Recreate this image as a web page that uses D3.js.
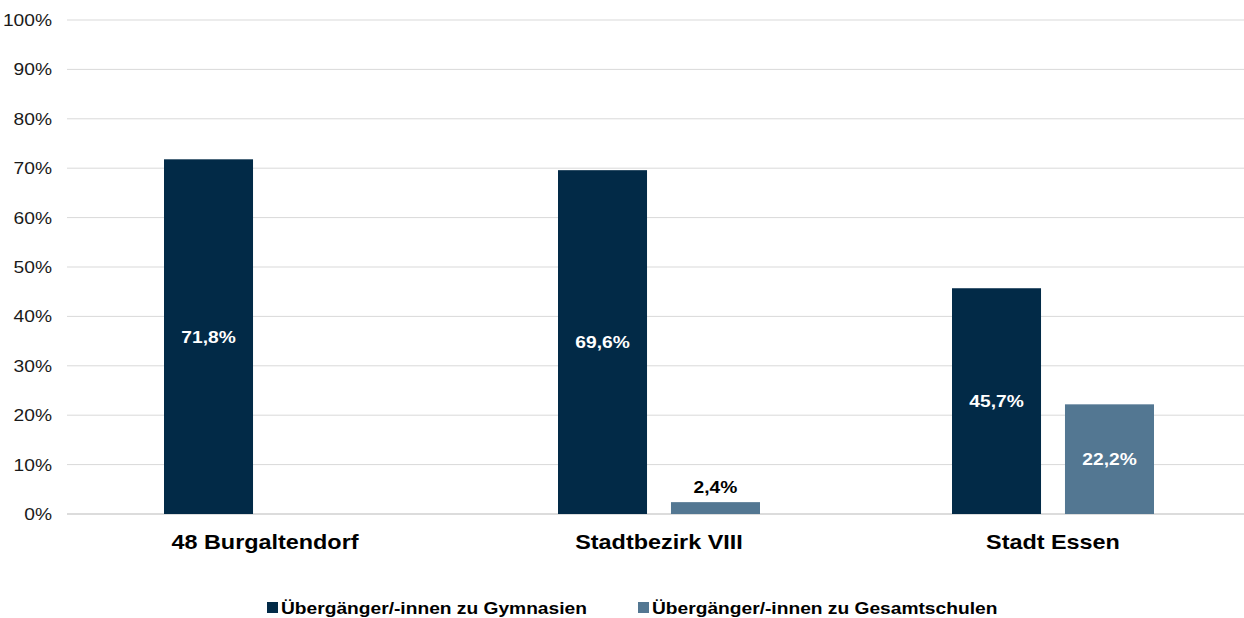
<!DOCTYPE html>
<html>
<head>
<meta charset="utf-8">
<script src="https://cdn.jsdelivr.net/npm/d3@7"></script>
<style>
  body { margin: 0; background: #fff; }
  svg { font-family: "Liberation Sans", Arial, sans-serif; }
</style>
</head>
<body>
<div id="chart"></div>
<script>
// data
var categories = ["48 Burgaltendorf", "Stadtbezirk VIII", "Stadt Essen"];
var seriesNames = ["Übergänger/-innen zu Gymnasien", "Übergänger/-innen zu Gesamtschulen"];
var gymnasien = [71.8, 69.6, 45.7];
var gesamtschulen = [null, 2.4, 22.2];
var yTicks = [0, 10, 20, 30, 40, 50, 60, 70, 80, 90, 100];

var colors = ["#022a47", "#537792"];

var width = 1244, height = 618;
var margin = { top: 20, left: 67, right: -5, bottom: 104 };
var stretch = 1.2; // text in the original is a bit wide

var svg = d3.select("#chart").append("svg")
    .attr("width", width)
    .attr("height", height);

var x0 = d3.scaleBand()
    .domain(categories)
    .range([margin.left, width - margin.right])
    .padding(0);

var x1 = d3.scaleBand()
    .domain([0, 1])
    .range([97, 299])
    .paddingInner(0.212)
    .paddingOuter(0);

var y = d3.scaleLinear()
    .domain([0, 100])
    .range([height - margin.bottom, margin.top]);

function place(sel, fx, fy) {
    sel.attr("transform", function (d, i) {
        return "translate(" + fx(d, i) + "," + fy(d, i) + ") scale(" + stretch + ",1)";
    });
}

// gridlines
svg.append("g")
    .selectAll("line")
    .data(yTicks)
    .enter()
    .append("line")
    .attr("x1", margin.left)
    .attr("x2", width)
    .attr("y1", d => y(d))
    .attr("y2", d => y(d))
    .attr("stroke", d => d == 0 ? "#d0d0d0" : "#d9d9d9")
    .attr("stroke-width", d => d == 0 ? 1.5 : 1);

// y labels
svg.append("g")
    .selectAll("text")
    .data(yTicks)
    .enter()
    .append("text")
    .call(place, () => 52, d => y(d) + 6)
    .attr("text-anchor", "end")
    .attr("font-size", 16)
    .attr("fill", "#1a1a1a")
    .text(d => d + "%");

var rows = [];
categories.forEach(function (c, i) {
    rows.push({ cat: c, s: 0, v: gymnasien[i] });
    if (gesamtschulen[i] != null) rows.push({ cat: c, s: 1, v: gesamtschulen[i] });
});

var fmt = v => d3.format(".1f")(v).replace(".", ",") + "%";

// bars
svg.append("g")
    .selectAll("rect")
    .data(rows)
    .enter()
    .append("rect")
    .attr("x", d => x0(d.cat) + x1(d.s))
    .attr("width", x1.bandwidth())
    .attr("y", d => y(d.v))
    .attr("height", d => y(0) - y(d.v))
    .attr("fill", d => colors[d.s]);

// value labels
svg.append("g")
    .selectAll("text")
    .data(rows)
    .enter()
    .append("text")
    .call(place,
        d => x0(d.cat) + x1(d.s) + x1.bandwidth() / 2,
        d => d.v < 8 ? y(d.v) - 9 : (y(d.v) + y(0)) / 2 + 6)
    .attr("text-anchor", "middle")
    .attr("font-size", 16)
    .attr("font-weight", "bold")
    .attr("fill", d => d.v < 8 ? "#000" : "#fff")
    .text(d => fmt(d.v));

// category labels
svg.append("g")
    .selectAll("text")
    .data(categories)
    .enter()
    .append("text")
    .call(place,
        d => x0(d) + x1(0) + x1.bandwidth() / 2 + (x1(1) - x1(0)) / 2,
        () => 549)
    .attr("text-anchor", "middle")
    .attr("font-size", 19.5)
    .attr("font-weight", "bold")
    .attr("fill", "#000")
    .text(d => d);

// legend
var legendX = [267, 638];
seriesNames.forEach(function (name, i) {
    svg.append("rect")
        .attr("x", legendX[i])
        .attr("y", 602)
        .attr("width", 11)
        .attr("height", 11)
        .attr("fill", colors[i]);
    svg.append("text")
        .attr("transform", "translate(" + (legendX[i] + 14) + ",614) scale(" + stretch + ",1)")
        .attr("font-size", 16)
        .attr("font-weight", "bold")
        .attr("fill", "#000")
        .text(name);
});
</script>
</body>
</html>
